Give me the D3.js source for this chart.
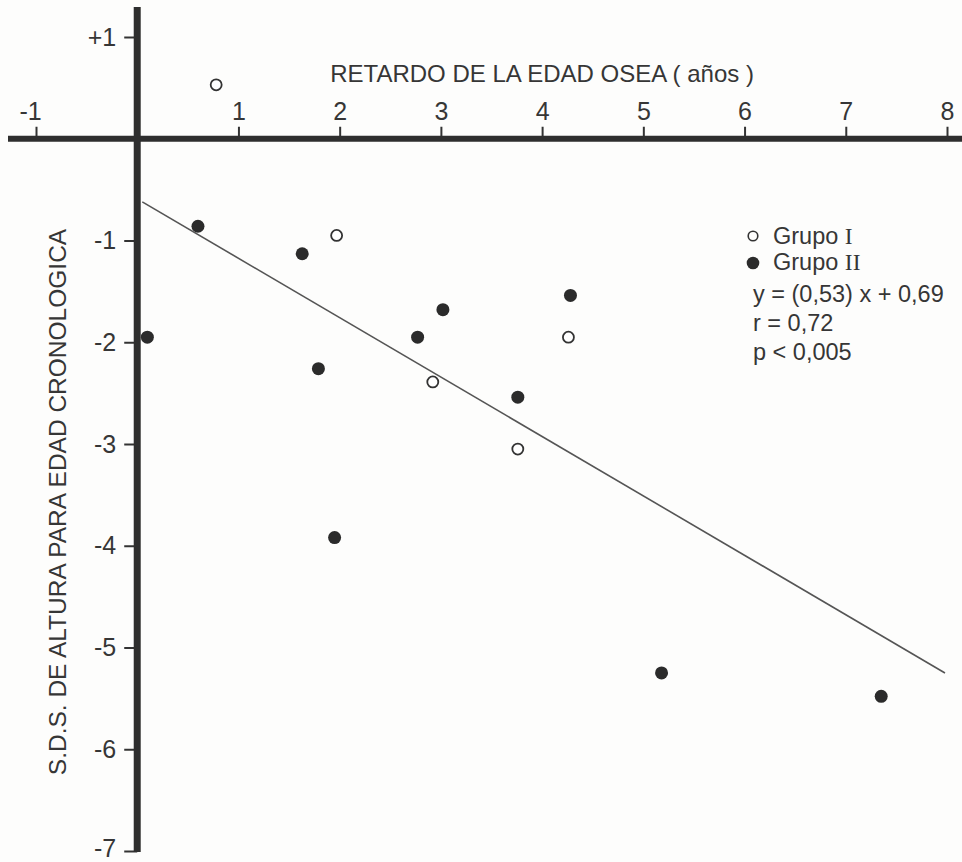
<!DOCTYPE html>
<html>
<head>
<meta charset="utf-8">
<script src="https://cdn.jsdelivr.net/npm/d3@7"></script>
<style>
  body { margin: 0; background: #fdfdfc; }
  svg { display: block; }
  text { font-family: "Liberation Sans", Arial, sans-serif; fill: #363636; }
  .tick line { stroke: #333; stroke-width: 2px; }
  .tick text { font-size: 25px; }
</style>
</head>
<body>
<svg id="chart" width="962" height="862"></svg>
<script>
// Grupo I (open circles): retardo edad osea (years) vs S.D.S. altura
var grupo1X = [0.78, 1.97, 2.92, 3.76, 4.26];
var grupo1Y = [0.53, -0.95, -2.39, -3.05, -1.95];

// Grupo II (filled circles)
var grupo2X = [0.10, 0.60, 1.63, 1.79, 2.77, 3.02, 3.76, 4.28, 1.95, 5.18, 7.35];
var grupo2Y = [-1.95, -0.86, -1.13, -2.26, -1.95, -1.68, -2.54, -1.54, -3.92, -5.25, -5.48];

// regression line as drawn in the figure
var fitX = [0.05, 7.98];
var fitY = [-0.62, -5.25];

var xTicks = [-1, 1, 2, 3, 4, 5, 6, 7, 8];
var xTickLabels = ["-1", "1", "2", "3", "4", "5", "6", "7", "8"];
var yTicks = [1, -1, -2, -3, -4, -5, -6, -7];
var yTickLabels = ["+1", "-1", "-2", "-3", "-4", "-5", "-6", "-7"];

var legendLines = ["y = (0,53) x + 0,69", "r = 0,72", "p < 0,005"];

var svg = d3.select("#chart");

var x = d3.scaleLinear().domain([-1, 8]).range([36, 947]);
var y = d3.scaleLinear().domain([1, -7]).range([37, 851]);

// ticks through d3 axes (domain path hidden, thick axis lines drawn below)
var xAxis = d3.axisTop(x)
  .tickValues(xTicks)
  .tickSize(12)
  .tickSizeOuter(0)
  .tickPadding(7)
  .tickFormat(function(d, i){ return xTickLabels[i]; });

var gx = svg.append("g")
  .attr("transform", "translate(0," + y(0) + ")")
  .call(xAxis);
gx.select(".domain").remove();
gx.selectAll(".tick text")
  .attr("dx", function(d){ return d < 0 ? "-6px" : 0; });

var yAxis = d3.axisLeft(y)
  .tickValues(yTicks)
  .tickSize(13)
  .tickSizeOuter(0)
  .tickPadding(8)
  .tickFormat(function(d, i){ return yTickLabels[i]; });

var gy = svg.append("g")
  .attr("transform", "translate(" + x(0) + ",0)")
  .call(yAxis);
gy.select(".domain").remove();
// last label sits right on the bottom edge
gy.selectAll(".tick text")
  .attr("dy", function(d){ return d === -7 ? "0.2em" : "0.32em"; });

// heavy axis lines
svg.append("line")
  .attr("x1", 8)
  .attr("x2", 962)
  .attr("y1", y(0))
  .attr("y2", y(0))
  .attr("stroke", "#2e2e2e")
  .attr("stroke-width", 6);

svg.append("line")
  .attr("x1", x(0))
  .attr("x2", x(0))
  .attr("y1", 7)
  .attr("y2", y(-7) + 1)
  .attr("stroke", "#2e2e2e")
  .attr("stroke-width", 7);

// axis titles
svg.append("text")
  .attr("x", x(0) + 193)
  .attr("y", 82)
  .style("font-size", "24px")
  .text("RETARDO DE LA EDAD OSEA ( años )");

svg.append("text")
  .attr("transform", "translate(66," + 502 + ") rotate(-90)")
  .attr("text-anchor", "middle")
  .style("font-size", "24.5px")
  .text("S.D.S. DE ALTURA PARA EDAD CRONOLOGICA");

// regression line
svg.append("line")
  .attr("x1", x(fitX[0]))
  .attr("y1", y(fitY[0]))
  .attr("x2", x(fitX[1]))
  .attr("y2", y(fitY[1]))
  .attr("stroke", "#555")
  .attr("stroke-width", 1.6);

// points
var g1 = d3.zip(grupo1X, grupo1Y);
var g2 = d3.zip(grupo2X, grupo2Y);

svg.selectAll("circle.g2").data(g2).enter().append("circle")
  .classed("g2", true)
  .attr("cx", d=>x(d[0]))
  .attr("cy", d=>y(d[1]))
  .attr("r", 6.5)
  .attr("fill", "#2b2b2b");

svg.selectAll("circle.g1").data(g1).enter().append("circle")
  .classed("g1", true)
  .attr("cx", d=>x(d[0]))
  .attr("cy", d=>y(d[1]))
  .attr("r", 5.5)
  .attr("fill", "#fff")
  .attr("stroke", "#333")
  .attr("stroke-width", 1.8);

// legend
var legend = svg.append("g");

legend.append("circle")
  .attr("cx", 753)
  .attr("cy", 236)
  .attr("r", 4.8)
  .attr("fill", "none")
  .attr("stroke", "#333")
  .attr("stroke-width", 1.6);

legend.append("circle")
  .attr("cx", 753)
  .attr("cy", 263)
  .attr("r", 6.3)
  .attr("fill", "#2b2b2b");

var t1 = legend.append("text")
  .attr("x", 773)
  .attr("y", 244)
  .style("font-size", "23.5px");
t1.append("tspan").text("Grupo ");
t1.append("tspan").style("font-family", "'Liberation Serif', serif").text("I");

var t2 = legend.append("text")
  .attr("x", 773)
  .attr("y", 270)
  .style("font-size", "23.5px");
t2.append("tspan").text("Grupo ");
t2.append("tspan").style("font-family", "'Liberation Serif', serif").text("II");

legend.selectAll("text.stat").data(legendLines).enter().append("text")
  .classed("stat", true)
  .attr("x", 753)
  .attr("y", (d, i) => 302 + i * 29)
  .style("font-size", "23.5px")
  .text(d => d);
</script>
</body>
</html>
